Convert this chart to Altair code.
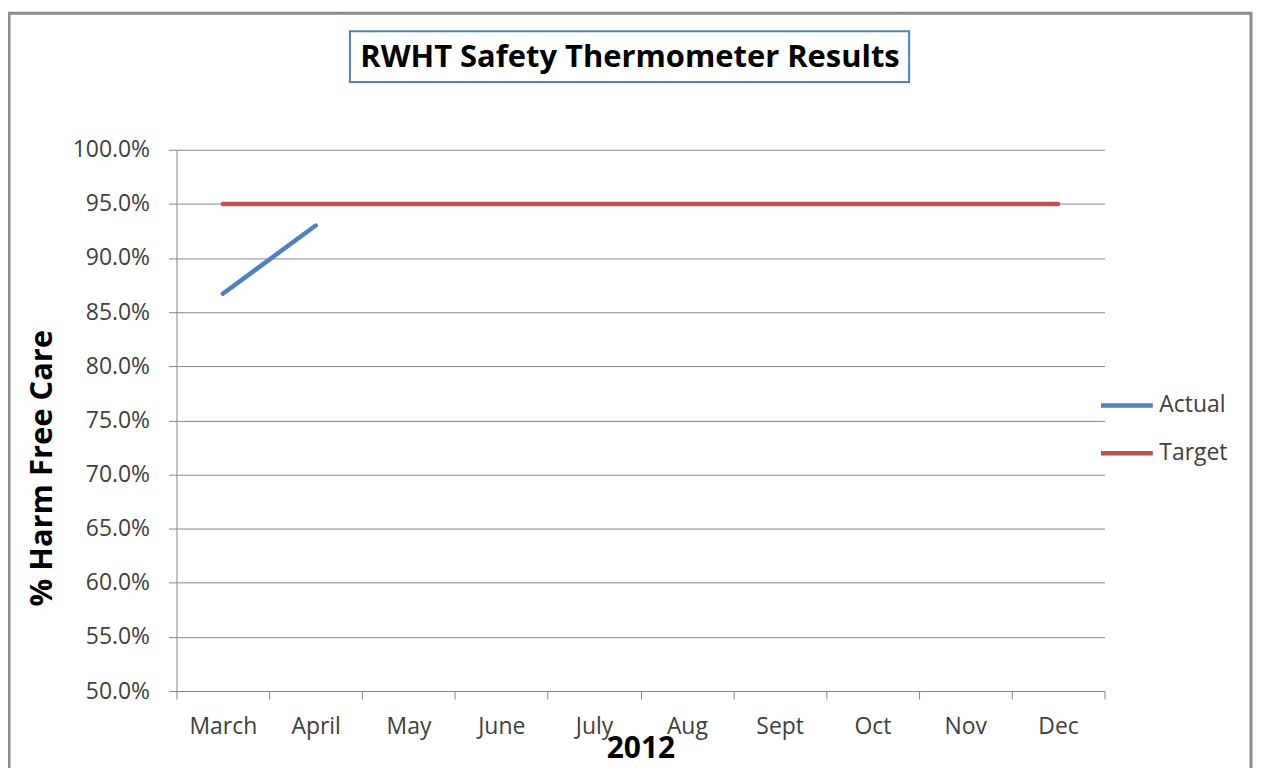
import altair as alt
import pandas as pd

# ---- data ----
months = ["March", "April", "May", "June", "July", "Aug", "Sept", "Oct", "Nov", "Dec"]
actual = [0.867, 0.930]
target = [0.95] * 10
series_names = ["Actual", "Target"]
series_colors = ["#4F81BD", "#C0504D"]
y_ticks = [0.50, 0.55, 0.60, 0.65, 0.70, 0.75, 0.80, 0.85, 0.90, 0.95, 1.00]
chart_title = "RWHT Safety Thermometer Results"
y_title = "% Harm Free Care"
x_title = "2012"

rows = []
for i, v in enumerate(actual):
    rows.append({"month": months[i], "series": "Actual", "value": v})
for i, v in enumerate(target):
    rows.append({"month": months[i], "series": "Target", "value": v})
df = pd.DataFrame(rows)

W, H = 931, 543
FONT = "Open Sans"
GRAY = "#868686"

one = pd.DataFrame({"k": [0]})

border = alt.Chart(one).mark_rect(fill="transparent", stroke="#8C8C8C", strokeWidth=3).encode(
    x=alt.value(-168), x2=alt.value(1078), y=alt.value(-137), y2=alt.value(640)
)
title_box = alt.Chart(one).mark_rect(fill="white", stroke="#4F81BD", strokeWidth=2).encode(
    x=alt.value(174), x2=alt.value(735), y=alt.value(-119), y2=alt.value(-68)
)
title_text = alt.Chart(one).mark_text(
    font=FONT, fontSize=31, fontWeight="bold", color="black", align="center", baseline="middle"
).encode(x=alt.value(455), y=alt.value(-92), text=alt.value(chart_title))

lines = alt.Chart(df).mark_line(strokeWidth=4.5, strokeCap="round").encode(
    x=alt.X(
        "month:N",
        sort=months,
        scale=alt.Scale(type="band", domain=months, paddingInner=0, paddingOuter=0),
        axis=alt.Axis(
            tickBand="extent",
            labelAngle=0,
            labelBaseline="alphabetic",
            labelPadding=35,
            labelFont=FONT,
            labelFontSize=23,
            labelColor="#404040",
            tickSize=8,
            tickColor=GRAY,
            domainColor=GRAY,
            grid=False,
            title=x_title,
            titleFont=FONT,
            titleFontSize=30,
            titleFontWeight="bold",
            titleColor="black",
            titleBaseline="alphabetic",
            titleY=67,
        ),
    ),
    y=alt.Y(
        "value:Q",
        scale=alt.Scale(domain=[0.5, 1.0], nice=False, zero=False),
        axis=alt.Axis(
            values=y_ticks,
            format=".1%",
            labelFont=FONT,
            labelFontSize=23,
            labelColor="#404040",
            labelPadding=19,
            tickSize=8,
            tickColor=GRAY,
            domainColor=GRAY,
            grid=True,
            gridColor=GRAY,
            gridWidth=1,
            title=y_title,
            titleFont=FONT,
            titleFontSize=31,
            titleFontWeight="bold",
            titleColor="black",
            titleAngle=-90,
            titleAlign="center",
            titleBaseline="middle",
            titleX=-134,
            titleY=319,
        ),
    ),
    color=alt.Color(
        "series:N",
        scale=alt.Scale(domain=series_names, range=series_colors),
        legend=alt.Legend(
            title=None,
            orient="none",
            legendX=925,
            legendY=228,
            symbolType="stroke",
            symbolSize=2704,
            symbolStrokeWidth=4.5,
            rowPadding=7,
            labelFont=FONT,
            labelFontSize=23,
            labelColor="#404040",
            labelOffset=4,
            padding=0,
        ),
    ),
    detail="series:N",
)

chart = alt.layer(border, title_box, title_text, lines).properties(
    width=W,
    height=H,
    autosize=alt.AutoSizeParams(type="none"),
    padding={"left": 169, "top": 141, "right": 150, "bottom": 76},
).configure_view(stroke=None)

chart.save("out.html", embed_options={"renderer": "svg", "actions": False})
